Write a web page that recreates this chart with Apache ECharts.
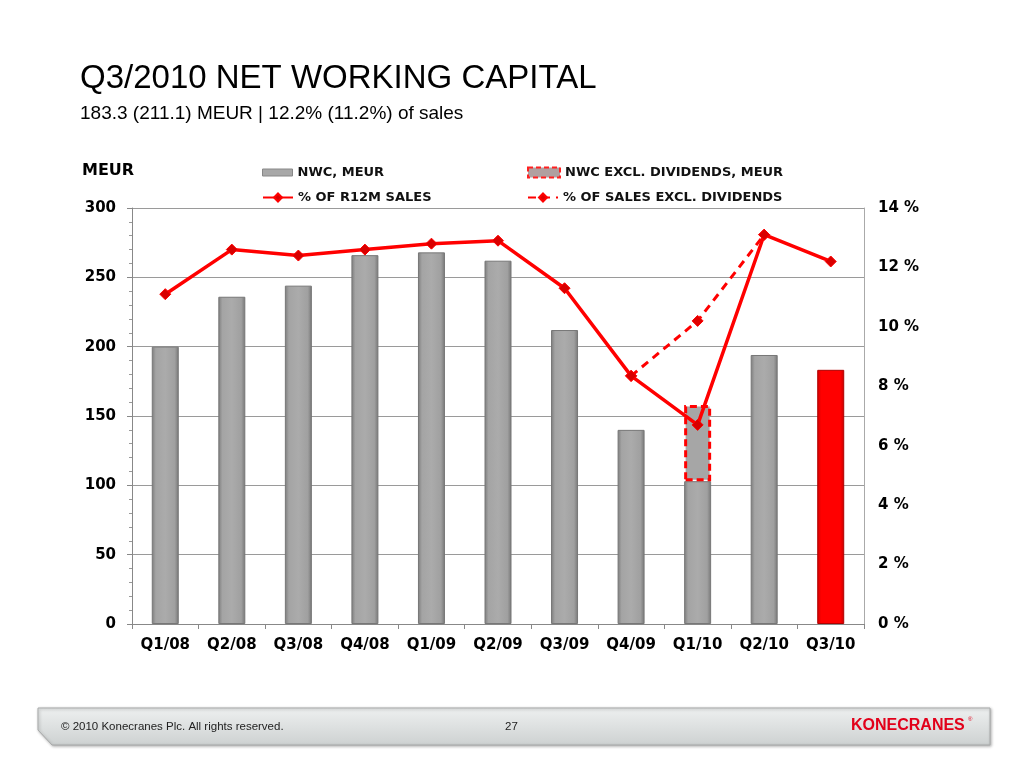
<!DOCTYPE html>
<html>
<head>
<meta charset="utf-8">
<script src="https://cdn.jsdelivr.net/npm/echarts@6/dist/echarts.min.js"></script>
<style>
html,body{margin:0;padding:0;background:#fff;}
#c{width:1024px;height:768px;}
</style>
</head>
<body>
<div id="c"></div>
<script>
var categories = ['Q1/08','Q2/08','Q3/08','Q4/08','Q1/09','Q2/09','Q3/09','Q4/09','Q1/10','Q2/10','Q3/10'];
var nwc = [200, 236, 244, 266, 268, 262, 212, 140, 103, 194, 183.3];
var nwcExclDiv = [null, null, null, null, null, null, null, null, 158, null, null];
var pctSales = [11.1, 12.6, 12.4, 12.6, 12.8, 12.9, 11.3, 8.35, 6.7, 13.1, 12.2];
var pctSalesExclDiv = [null, null, null, null, null, null, null, 8.35, 10.2, 13.1, null];
var leftTicks = [0, 50, 100, 150, 200, 250, 300];
var rightTicks = [0, 2, 4, 6, 8, 10, 12, 14];

var chartFont = 'DejaVu Sans';
var grayGrad = {type:'linear',x:0,y:0,x2:1,y2:0,colorStops:[
  {offset:0,color:'#7c7c7c'},{offset:0.15,color:'#a4a4a4'},{offset:0.5,color:'#ababab'},{offset:0.85,color:'#a0a0a0'},{offset:1,color:'#767676'}]};
var redGrad = {type:'linear',x:0,y:0,x2:1,y2:0,colorStops:[
  {offset:0,color:'#d00000'},{offset:0.15,color:'#ff0000'},{offset:0.85,color:'#ff0000'},{offset:1,color:'#c80000'}]};

var nwcData = nwc.map(function(v,i){
  if (i === nwc.length-1) return {value:v, itemStyle:{color:redGrad, borderColor:'#b00000'}};
  return v;
});
var divSegment = nwcExclDiv.map(function(v,i){ return v == null ? null : +(v - nwc[i]).toFixed(1); });

var chart = echarts.init(document.getElementById('c'));
var legendText = {fontFamily:chartFont, fontWeight:'bold', fontSize:13, color:'#111'};
chart.setOption({
  animation:false,
  backgroundColor:'#fff',
  grid:{left:132, right:160, top:208, bottom:144},
  legend:[
    {left:262, top:166, padding:0, itemWidth:30, itemHeight:7, itemGap:5, textStyle:legendText, selectedMode:false,
     data:[{name:'NWC, MEUR', icon:'rect', itemStyle:{color:'#a8a8a8', borderColor:'#888', borderWidth:1}}]},
    {left:527, top:166, padding:0, itemWidth:32, itemHeight:10, itemGap:5, textStyle:legendText, selectedMode:false,
     data:[{name:'NWC EXCL. DIVIDENDS, MEUR', icon:'rect', itemStyle:{color:'#b0a0a0', borderColor:'#ff2020', borderWidth:2, borderType:[5,3]}}]},
    {left:262, top:191, padding:0, itemWidth:30, itemHeight:10, itemGap:5, textStyle:legendText, selectedMode:false,
     data:['% OF R12M SALES']},
    {left:527, top:191, padding:0, itemWidth:30, itemHeight:10, itemGap:5, textStyle:legendText, selectedMode:false,
     data:['% OF SALES EXCL. DIVIDENDS']}
  ],
  xAxis:{
    type:'category', data:categories,
    axisLine:{lineStyle:{color:'#888', width:1}},
    axisTick:{show:true, length:5, lineStyle:{color:'#888'}},
    axisLabel:{fontFamily:chartFont, fontWeight:'bold', fontSize:15, color:'#000', margin:14}
  },
  yAxis:[
    {type:'value', min:leftTicks[0], max:leftTicks[leftTicks.length-1], interval:50,
     axisLine:{show:true, lineStyle:{color:'#888'}},
     axisTick:{show:true, length:5, lineStyle:{color:'#888'}},
     minorTick:{show:true, splitNumber:5, length:3, lineStyle:{color:'#999'}},
     splitLine:{show:true, lineStyle:{color:'#9a9a9a', width:1}},
     axisLabel:{fontFamily:chartFont, fontWeight:'bold', fontSize:15, color:'#000', margin:16}
    },
    {type:'value', min:rightTicks[0], max:rightTicks[rightTicks.length-1], interval:2,
     axisLine:{show:true, lineStyle:{color:'#aaa'}},
     axisTick:{show:false},
     splitLine:{show:false},
     axisLabel:{fontFamily:chartFont, fontWeight:'bold', fontSize:15, color:'#000', margin:14, formatter:'{value} %'}
    }
  ],
  series:[
    {name:'NWC, MEUR', type:'bar', stack:'nwc', barWidth:27, data:nwcData,
     itemStyle:{color:grayGrad, borderColor:'#777', borderWidth:1}},
    {name:'NWC EXCL. DIVIDENDS, MEUR', type:'bar', stack:'nwc', barWidth:27, data:divSegment,
     itemStyle:{color:'#a6a6a6', borderColor:'#ff0000', borderWidth:3, borderType:[7,4]}},
    {name:'% OF SALES EXCL. DIVIDENDS', type:'line', yAxisIndex:1, data:pctSalesExclDiv, z:4,
     symbol:'diamond', symbolSize:11, connectNulls:false,
     lineStyle:{color:'#ff0000', width:3, type:[8,6]},
     itemStyle:{color:'#e00000', borderColor:'#ff0000', borderWidth:1}},
    {name:'% OF R12M SALES', type:'line', yAxisIndex:1, data:pctSales, z:5,
     symbol:'diamond', symbolSize:11,
     lineStyle:{color:'#ff0000', width:3.5},
     itemStyle:{color:'#d80000', borderColor:'#ff0000', borderWidth:1}}
  ],
  graphic:[
    {type:'text', left:80, top:62, style:{text:'Q3/2010 NET WORKING CAPITAL', fontFamily:'Liberation Sans', fontSize:33, fill:'#000'}},
    {type:'text', left:80, top:104, style:{text:'183.3 (211.1) MEUR | 12.2% (11.2%) of sales', fontFamily:'Liberation Sans', fontSize:19, fill:'#000'}},
    {type:'text', left:82, top:163, style:{text:'MEUR', fontFamily:chartFont, fontWeight:'bold', fontSize:16, fill:'#000'}},
    {type:'polygon', shape:{points:[[38,708],[990,708],[990,745],[52,745],[38,730]]},
     style:{fill:{type:'linear',x:0,y:0,x2:0,y2:1,colorStops:[{offset:0,color:'#eef0f0'},{offset:1,color:'#cdd1d1'}]},
            stroke:'#a8aaaa', lineWidth:1, shadowColor:'rgba(0,0,0,0.3)', shadowBlur:3, shadowOffsetX:1, shadowOffsetY:1}},
    {type:'text', left:61, top:721, style:{text:'\u00a9 2010 Konecranes Plc. All rights reserved.', fontFamily:'Liberation Sans', fontSize:11.5, fill:'#222'}},
    {type:'text', left:505, top:721, style:{text:'27', fontFamily:'Liberation Sans', fontSize:11.5, fill:'#222'}},
    {type:'text', left:851, top:718, style:{text:'KONECRANES', fontFamily:'Liberation Sans', fontWeight:'bold', fontSize:16, fill:'#e2001a'}},
    {type:'text', left:968, top:716, style:{text:'\u00ae', fontFamily:'Liberation Sans', fontSize:6, fill:'#e2001a'}}
  ]
});
</script>
</body>
</html>
